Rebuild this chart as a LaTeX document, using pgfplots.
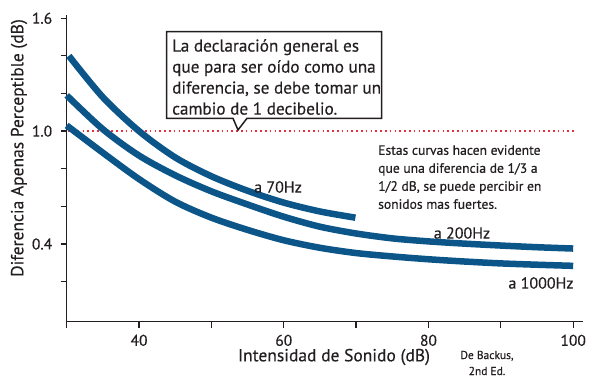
\documentclass[border=0pt]{standalone}
\usepackage{fontspec}
\setmainfont{PT Sans}[FakeBold=0.4]
\usepackage{pgfplots}
\pgfplotsset{compat=1.18}
\definecolor{curve}{RGB}{11,85,137}
\definecolor{txt}{RGB}{35,31,32}
\definecolor{dotred}{RGB}{232,48,58}
\begin{document}
\begin{tikzpicture}[x=1pt,y=1pt]
\useasboundingbox (0,0) rectangle (600,383);
\begin{axis}[
 at={(66.7pt,61.3pt)}, anchor=south west,
 scale only axis, width=515.9pt, height=306.5pt,
 xmin=30, xmax=101.3, ymin=-0.0128, ymax=1.616,
 axis x line=bottom, axis y line=left,
 axis line style={-, line width=1.5pt, color=txt},
 xtick={30,40,50,60,70,80,90,100}, xticklabels={,40,,60,,80,,100},
 ytick={0.2,0.4,0.6,0.8,1.0,1.2,1.4,1.6}, yticklabels={,0.4,,,1.0,,,1.6},
 tick align=outside, major tick length=6pt,
 tick style={line width=1.3pt, color=txt},
 ticklabel style={font=\fontsize{15.5}{18}\selectfont, text=txt},
 xticklabel style={yshift=-3.5pt},
 yticklabel style={xshift=-5pt},
 clip=false,
]
\addplot[dotred, line width=1.4pt, dash pattern=on 1.6pt off 3.2pt] coordinates {(30.2,1) (100.4,1)};
\addplot[curve, line width=6.5pt, smooth, line cap=butt] coordinates {
 (30.3,1.40) (35,1.18) (40,1.0) (45,0.86) (50,0.76) (55,0.683) (60,0.62) (65,0.573) (69.9,0.54)};
\addplot[curve, line width=6.5pt, smooth, line cap=butt] coordinates {
 (30,1.19) (35,1.01) (40,0.87) (45,0.765) (50,0.68) (55,0.61) (60,0.545) (65,0.492) (70,0.456) (75,0.43) (80,0.414) (85,0.402) (90,0.392) (95,0.383) (100,0.376)};
\addplot[curve, line width=6.5pt, smooth, line cap=butt] coordinates {
 (30,1.03) (35,0.885) (40,0.745) (45,0.625) (50,0.54) (55,0.475) (60,0.42) (65,0.38) (70,0.352) (75,0.334) (80,0.319) (85,0.307) (90,0.297) (95,0.29) (100,0.284)};
\end{axis}
% callout box
\draw[txt, line width=1.5pt, fill=white, line join=miter]
 (166.7,351.3) -- (381.7,351.3) -- (381.7,264.7) -- (247,264.7) -- (238,253) -- (233,264.7) -- (166.7,264.7) -- cycle;
\node[anchor=north west, inner sep=0pt, align=left, text=txt, font=\fontsize{17.2}{21}\selectfont]
 at (172,344) {La declaración general es\\que para ser oído como una\\diferencia, se debe tomar un\\cambio de 1 decibelio.};
\node[anchor=north west, inner sep=0pt, align=left, text=txt, font=\fontsize{13.6}{18}\selectfont]
 at (378,238) {Estas curvas hacen evidente\\que una diferencia de 1/3 a\\1/2 dB, se puede percibir en\\sonidos mas fuertes.};
\node[text=txt, font=\fontsize{16}{19}\selectfont] at (278,196) {a 70Hz};
\node[text=txt, font=\fontsize{16}{19}\selectfont] at (462,150) {a 200Hz};
\node[text=txt, font=\fontsize{16}{19}\selectfont] at (541,100) {a 1000Hz};
\node[text=txt, font=\fontsize{17.5}{19}\selectfont] at (334,26) {Intensidad de Sonido (dB)};
\node[text=txt, font=\fontsize{17.5}{19}\selectfont, rotate=90] at (19,235) {Diferencia Apenas Perceptible (dB)};
\node[text=txt, font=\fontsize{11.5}{16}\selectfont, align=center] at (487,20) {De Backus,\\2nd Ed.};
\end{tikzpicture}
\end{document}
